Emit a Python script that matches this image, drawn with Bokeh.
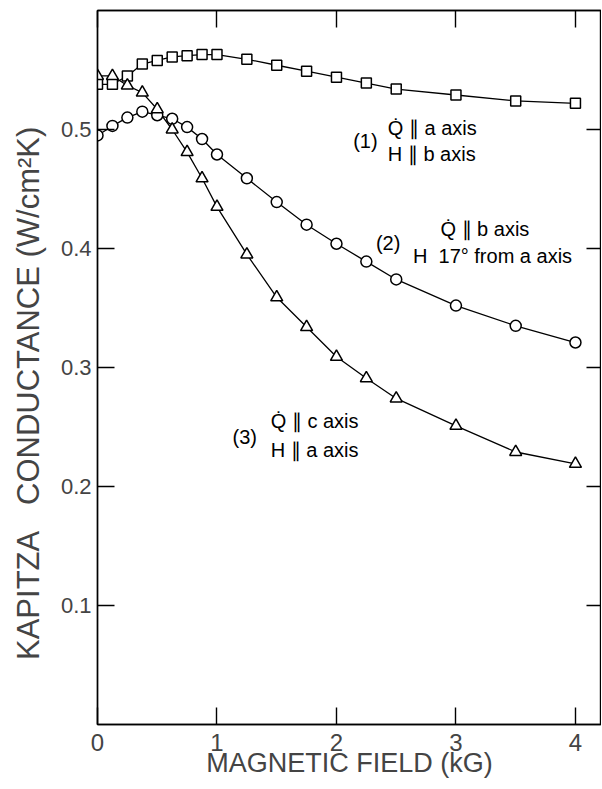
from bokeh.plotting import figure
from bokeh.models import LinearAxis, FixedTicker, Range1d, ColumnDataSource
from bokeh.embed import file_html
from bokeh.resources import INLINE
from bokeh.core.properties import value

# ---- data ----
field_kG = [0, 0.125, 0.25, 0.375, 0.5, 0.625, 0.75, 0.875, 1.0, 1.25, 1.5, 1.75,
            2.0, 2.25, 2.5, 3.0, 3.5, 4.0]
curve1 = [0.538, 0.538, 0.545, 0.555, 0.558, 0.561, 0.562, 0.563, 0.563, 0.559,
          0.554, 0.549, 0.544, 0.539, 0.534, 0.529, 0.524, 0.522]
curve2 = [0.495, 0.503, 0.510, 0.515, 0.512, 0.509, 0.502, 0.492, 0.479, 0.459,
          0.439, 0.420, 0.404, 0.389, 0.374, 0.352, 0.335, 0.321]
curve3 = [0.545, 0.545, 0.537, 0.531, 0.517, 0.500, 0.481, 0.459, 0.435, 0.395,
          0.359, 0.334, 0.309, 0.291, 0.274, 0.251, 0.229, 0.219]

x_ticks = [0, 1, 2, 3, 4]
y_ticks = [0.1, 0.2, 0.3, 0.4, 0.5]

x_title = "MAGNETIC FIELD (kG)"
NB = "\u00a0"
y_title = "KAPITZA" + NB * 3 + "CONDUCTANCE (W/cm\u00b2K)" + NB * 6

# curve annotations: (text, x, y)
tag_text = ["(1)", "(2)", "(3)"]
tag_x = [2.14, 2.33, 1.13]
tag_y = [0.490, 0.405, 0.242]
desc_text = ["Q\u0307 \u2225 a axis", "H \u2225 b axis",
             "Q\u0307 \u2225 b axis", "H" + NB * 2 + "17\u00b0 from a axis",
             "Q\u0307 \u2225 c axis", "H \u2225 a axis"]
desc_x = [2.43, 2.43, 2.87, 2.64, 1.45, 1.45]
desc_y = [0.501, 0.479, 0.416, 0.394, 0.255, 0.231]

FONT = "Liberation Sans"

p = figure(frame_width=504, frame_height=714,
           min_border_left=97, min_border_top=10, min_border_bottom=0, min_border_right=0,
           x_range=Range1d(0, 4.218), y_range=Range1d(0, 0.6),
           output_backend="svg", toolbar_location=None)
p.background_fill_color = "white"
p.border_fill_color = "white"
p.xgrid.visible = False
p.ygrid.visible = False
p.outline_line_color = "black"
p.outline_line_width = 1.4

# bottom axis
xa = p.xaxis[0]
xa.ticker = FixedTicker(ticks=x_ticks)
xa.major_tick_in = 17
xa.major_tick_out = 0
xa.minor_tick_line_color = None
xa.axis_line_width = 1.4
xa.major_tick_line_width = 1.4
xa.major_label_text_font = FONT
xa.major_label_text_font_size = "24px"
xa.major_label_standoff = 9
xa.axis_label = x_title
xa.axis_label_text_font = FONT
xa.axis_label_text_font_size = "27px"
xa.axis_label_text_font_style = "normal"
xa.axis_label_standoff = -6

# left axis
ya = p.yaxis[0]
ya.ticker = FixedTicker(ticks=y_ticks)
ya.major_tick_in = 17
ya.major_tick_out = 0
ya.minor_tick_line_color = None
ya.axis_line_width = 1.4
ya.major_tick_line_width = 1.4
ya.major_label_text_font = FONT
ya.major_label_text_font_size = "22px"
ya.major_label_standoff = 6
ya.axis_label = y_title
ya.axis_label_text_font = FONT
ya.axis_label_text_font_size = "31px"
ya.axis_label_text_font_style = "normal"
ya.axis_label_standoff = 12

# top and right tick-only axes (no tick labels)
top = LinearAxis(ticker=FixedTicker(ticks=x_ticks), major_tick_in=17, major_tick_out=0,
                 minor_tick_line_color=None, major_label_standoff=0,
                 major_label_overrides={t: "" for t in x_ticks},
                 axis_line_width=1.4, major_tick_line_width=1.4)
right = LinearAxis(ticker=FixedTicker(ticks=y_ticks), major_tick_in=15, major_tick_out=0,
                   minor_tick_line_color=None, major_label_standoff=0,
                   major_label_overrides={t: "" for t in y_ticks},
                   axis_line_width=1.4, major_tick_line_width=1.4)
p.add_layout(top, "above")
p.add_layout(right, "right")

src = ColumnDataSource(dict(x=field_kG, c1=curve1, c2=curve2, c3=curve3))

for col in ["c1", "c2", "c3"]:
    p.line("x", col, source=src, line_color="black", line_width=1.3)

p.scatter("x", "c1", source=src, marker="square", size=10, fill_color="white",
          line_color="black", line_width=1.5)
p.scatter("x", "c2", source=src, marker="circle", size=11, fill_color="white",
          line_color="black", line_width=1.5)
p.scatter("x", "c3", source=src, marker="triangle", size=12, fill_color="white",
          line_color="black", line_width=1.5)

p.text(x=tag_x, y=tag_y, text=tag_text, text_font=value(FONT), text_font_size="20px",
       text_baseline="middle", text_align="left", text_color="black")
p.text(x=desc_x, y=desc_y, text=desc_text, text_font=value(FONT), text_font_size="20px",
       text_baseline="alphabetic", text_align="left", text_color="black")

open("out.html", "w").write(file_html(p, INLINE))
